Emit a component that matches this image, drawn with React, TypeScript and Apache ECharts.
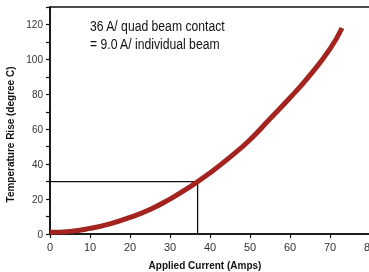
import React, { useEffect, useRef } from "react";
import * as echarts from "echarts";

const currentAmps = [0, 5, 10, 15, 20, 25, 30, 35, 40, 45, 50, 55, 60, 65, 70, 73];
const tempRise = [1, 1.5, 3.2, 5.8, 9.5, 14, 20, 27, 35, 44, 54, 66, 78, 91, 106, 118];
const markerCurrent = 36.9;
const markerTemp = 30;
const annotationLines = ["36 A/ quad beam contact", "= 9.0 A/ individual beam"];

export default function App() {
  const ref = useRef<HTMLDivElement>(null);
  useEffect(() => {
    if (!ref.current) return;
    const chart = echarts.init(ref.current, undefined, { renderer: "svg" });
    const font = "'Liberation Sans', Arial, sans-serif";
    chart.setOption({
      animation: false,
      grid: {
        left: 50,
        top: 7,
        width: 320,
        height: 227,
        show: true,
        borderColor: "#111",
        borderWidth: 1.6,
        outerBoundsMode: "none",
        containLabel: false,
      },
      xAxis: {
        type: "value",
        min: 0,
        max: 80,
        interval: 10,
        name: "Applied Current (Amps)",
        nameLocation: "middle",
        nameGap: 26,
        nameTextStyle: { fontFamily: font, fontWeight: "bold", fontSize: 10, color: "#111", padding: [0, 10, 0, 0] },
        axisLine: { show: true, lineStyle: { color: "#111", width: 1.6 } },
        axisTick: { show: true, length: 4, lineStyle: { color: "#111", width: 1.2 } },
        axisLabel: { fontFamily: font, fontSize: 11, color: "#333", margin: 7 },
        splitLine: { show: false },
      },
      yAxis: {
        type: "value",
        min: 0,
        max: 130,
        interval: 10,
        name: "Temperature Rise (degree C)",
        nameLocation: "middle",
        nameGap: 26,
        nameTextStyle: { fontFamily: font, fontWeight: "bold", fontSize: 10, color: "#111", padding: [0, 28, 0, 0] },
        axisLine: { show: true, lineStyle: { color: "#111", width: 1.6 } },
        axisTick: { show: true, length: 4, lineStyle: { color: "#111", width: 1.2 } },
        axisLabel: {
          fontFamily: font,
          fontSize: 10,
          color: "#333",
          margin: 7,
          formatter: (v: number) => (v % 20 === 0 ? String(v) : ""),
        },
        splitLine: { show: false },
      },
      series: [
        {
          type: "line",
          data: [
            [0, markerTemp],
            [markerCurrent, markerTemp],
            [markerCurrent, 0],
          ],
          symbol: "none",
          lineStyle: { color: "#111", width: 1.3 },
          z: 1,
        },
        {
          type: "line",
          data: currentAmps.map((x, i) => [x, tempRise[i]]),
          smooth: true,
          symbol: "none",
          lineStyle: { color: "#a3231f", width: 5 },
          z: 2,
        },
      ],
      graphic: annotationLines.map((t, i) => ({
        type: "text",
        x: 90,
        y: 19 + i * 18,
        scaleX: 0.87,
        style: { text: t, fontFamily: font, fontSize: 14, fill: "#111" },
      })),
    });
    return () => chart.dispose();
  }, []);
  return <div ref={ref} style={{ position: "fixed", left: 0, top: 0, width: 369, height: 272 }} />;
}
